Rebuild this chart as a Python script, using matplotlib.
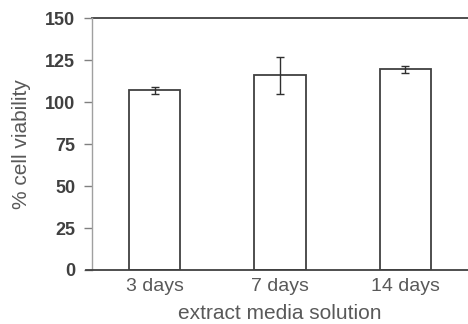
import matplotlib
matplotlib.use("Agg")
import matplotlib.pyplot as plt

plt.rcParams["font.family"] = ["Liberation Sans", "DejaVu Sans"]

# data
categories = ["3 days", "7 days", "14 days"]
viability = [107, 116, 119.5]
errors = [2.2, 11, 2.2]
yticks = [0, 25, 50, 75, 100, 125, 150]

text_col = "#595959"
line_col = "#404040"

fig = plt.figure(figsize=(4.68, 3.24), dpi=100)
ax = fig.add_axes([0.1966, 0.1667, 0.8034, 0.7773])

x = range(len(categories))
ax.bar(x, viability, width=0.41, color="white", edgecolor=line_col, linewidth=1.3, zorder=2)
ax.errorbar(x, viability, yerr=errors, fmt="none", ecolor="#303030",
            elinewidth=1.0, capsize=3, capthick=1.0, zorder=3)

ax.set_xlim(-0.5, 2.5)
ax.set_ylim(0, 150)
ax.set_yticks(yticks)
ax.set_xticks(list(x))
ax.set_xticklabels(categories, fontsize=14, color=text_col)
ax.tick_params(axis="y", labelsize=13, colors="#404040", length=6, width=1, color="#808080", pad=6)
ax.tick_params(axis="x", length=0, pad=6)
for lab in ax.get_yticklabels():
    lab.set_fontweight("bold")

# top gridline at 150
ax.axhline(150, color=line_col, linewidth=1.3, zorder=1, clip_on=False)

ax.spines["right"].set_visible(False)
ax.spines["top"].set_visible(False)
ax.spines["left"].set_color("#a0a0a0")
ax.spines["left"].set_linewidth(1.0)
ax.spines["bottom"].set_color(line_col)
ax.spines["bottom"].set_linewidth(1.3)
ax.spines["bottom"].set_bounds(-0.55, 2.5)

ax.set_ylabel("% cell viability", fontsize=15, color=text_col, labelpad=10)
ax.set_xlabel("extract media solution", fontsize=15, color=text_col, labelpad=6)

plt.savefig("out.png", dpi=100)
